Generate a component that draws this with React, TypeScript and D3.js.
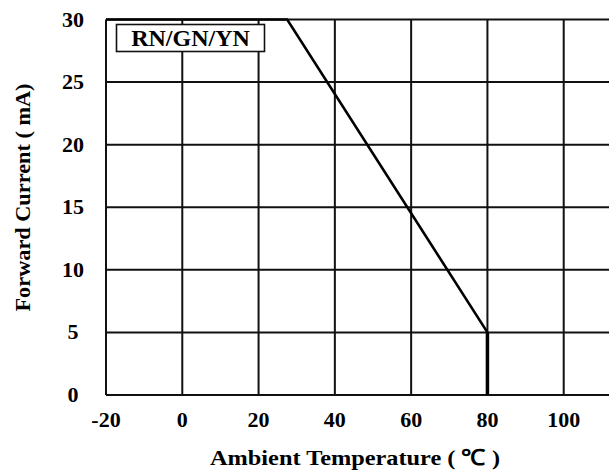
import React from "react";
import * as d3 from "d3";

const xTicks = [-20, 0, 20, 40, 60, 80, 100];
const yTicks = [0, 5, 10, 15, 20, 25, 30];
const curveTemp = [-20, 27.5, 80, 80];
const curveCurrent = [30, 30, 5, 0];
const legendLabel = "RN/GN/YN";
const xTitle = "Ambient Temperature ( ℃ )";
const yTitle = "Forward Current ( mA)";

const W = 609;
const H = 473;
const FONT = "'Liberation Serif', 'Times New Roman', serif";

export default function App() {
  const x = d3.scaleLinear().domain([-20, 120]).range([106, 640]);
  const y = d3.scaleLinear().domain([0, 30]).range([395, 19.5]);
  const pts: [number, number][] = curveTemp.map((t, i) => [t, curveCurrent[i]]);
  const line = d3
    .line<[number, number]>()
    .x((d) => x(d[0]))
    .y((d) => y(d[1]));

  return (
    <svg
      width={W}
      height={H}
      style={{ position: "absolute", left: 0, top: 0, background: "#fff" }}
    >
      <rect x={0} y={0} width={W} height={H} fill="#fff" />
      {/* grid */}
      {xTicks.map((t) => (
        <line
          key={"gx" + t}
          x1={x(t)}
          x2={x(t)}
          y1={y(0)}
          y2={y(30)}
          stroke="#111"
          strokeWidth={2}
        />
      ))}
      {yTicks.map((t) => (
        <line
          key={"gy" + t}
          x1={x(-20)}
          x2={x(120)}
          y1={y(t)}
          y2={y(t)}
          stroke="#111"
          strokeWidth={2}
        />
      ))}
      {/* tick labels */}
      {xTicks.map((t) => (
        <text
          key={"tx" + t}
          x={x(t)}
          y={427}
          textAnchor="middle"
          fontFamily={FONT}
          fontWeight="bold"
          fontSize={22}
          fill="#000"
        >
          {t}
        </text>
      ))}
      {yTicks.map((t) => (
        <text
          key={"ty" + t}
          x={73}
          y={y(t) + 7}
          textAnchor="middle"
          fontFamily={FONT}
          fontWeight="bold"
          fontSize={22}
          fill="#000"
        >
          {t}
        </text>
      ))}
      {/* curve */}
      <path d={line(pts.slice(0, 3)) || ""} fill="none" stroke="#000" strokeWidth={2.6} />
      <path d={line(pts.slice(2)) || ""} fill="none" stroke="#000" strokeWidth={3.5} />
      {/* legend */}
      <rect x={116.5} y={24.5} width={148} height={27} fill="#fff" stroke="#111" strokeWidth={1.6} />
      <text
        x={190.5}
        y={46}
        textAnchor="middle"
        fontFamily={FONT}
        fontWeight="bold"
        fontSize={24}
        fill="#000"
      >
        {legendLabel}
      </text>
      {/* axis titles */}
      <text
        x={355}
        y={465}
        textAnchor="middle"
        fontFamily={FONT}
        fontWeight="bold"
        fontSize={22}
        textLength={290}
        lengthAdjust="spacingAndGlyphs"
        fill="#000"
      >
        {xTitle}
      </text>
      <text
        transform={`translate(29.5,197.5) rotate(-90)`}
        textAnchor="middle"
        fontFamily={FONT}
        fontWeight="bold"
        fontSize={22}
        textLength={228}
        lengthAdjust="spacingAndGlyphs"
        fill="#000"
      >
        {yTitle}
      </text>
    </svg>
  );
}
